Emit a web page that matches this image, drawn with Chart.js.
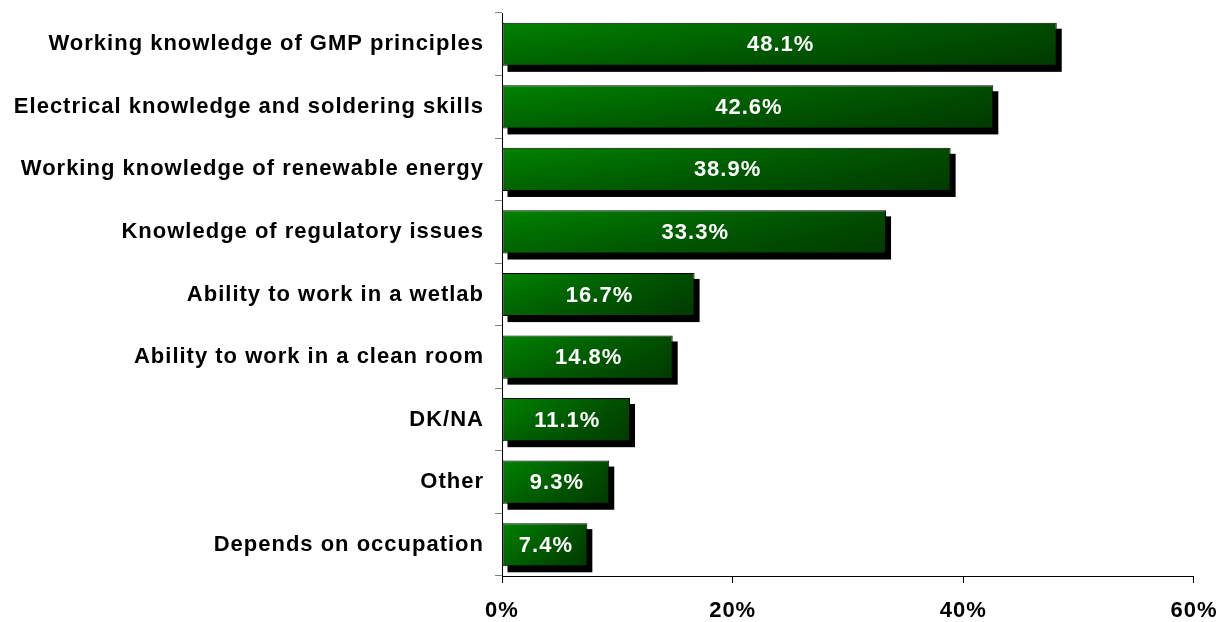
<!DOCTYPE html>
<html>
<head>
<meta charset="utf-8">
<script src="https://cdn.jsdelivr.net/npm/chart.js@4.4.0/dist/chart.umd.min.js"></script>
<style>
html,body{margin:0;padding:0;background:#fff;}
#wrap{width:1231px;height:622px;position:relative;}
</style>
</head>
<body>
<div id="wrap"><canvas id="c" width="1231" height="622"></canvas></div>
<script>
const categories = [
  "Working knowledge of GMP principles",
  "Electrical knowledge and soldering skills",
  "Working knowledge of renewable energy",
  "Knowledge of regulatory issues",
  "Ability to work in a wetlab",
  "Ability to work in a clean room",
  "DK/NA",
  "Other",
  "Depends on occupation"
];
const values = [48.1, 42.6, 38.9, 33.3, 16.7, 14.8, 11.1, 9.3, 7.4];
const xTicks = [0, 20, 40, 60];

const FONT = "'Liberation Sans', Arial, sans-serif";

const spacingPlugin = {
  id: 'spacing',
  beforeDraw(chart) { chart.ctx.letterSpacing = '1px'; }
};

function barRect(bar) {
  const p = bar.getProps(['x', 'y', 'base', 'height'], true);
  const left = Math.min(p.x, p.base), right = Math.max(p.x, p.base);
  return { left, right, top: p.y - p.height / 2, height: p.height, cy: p.y };
}

function barFill(c) {
  const chart = c.chart;
  const xs = chart.scales && chart.scales.x;
  if (c.type !== 'data' || !xs) return '#006000';
  const l = xs.getPixelForValue(0);
  const r = xs.getPixelForValue(values[c.dataIndex]);
  if (!isFinite(l) || !isFinite(r) || r <= l) return '#006000';
  const g = chart.ctx.createLinearGradient(l, 0, r, 0);
  g.addColorStop(0, '#008300');
  g.addColorStop(1, '#004c00');
  return g;
}

const barDeco = {
  id: 'barDeco',
  beforeDatasetsDraw(chart) {
    const ctx = chart.ctx;
    const meta = chart.getDatasetMeta(0);
    ctx.save();
    ctx.fillStyle = '#000';
    meta.data.forEach(bar => {
      const r = barRect(bar);
      ctx.fillRect(r.left + 5, r.top + 6, r.right - r.left, r.height);
    });
    ctx.restore();
  },
  afterDatasetsDraw(chart) {
    const ctx = chart.ctx;
    const meta = chart.getDatasetMeta(0);
    ctx.save();
    meta.data.forEach(bar => {
      const r = barRect(bar);
      const g = ctx.createLinearGradient(0, r.top, 0, r.top + r.height);
      g.addColorStop(0, 'rgba(0,0,0,0)');
      g.addColorStop(1, 'rgba(0,0,0,0.25)');
      ctx.fillStyle = g;
      ctx.fillRect(r.left + 1, r.top + 1, r.right - r.left - 2, r.height - 2);
    });
    ctx.letterSpacing = '1px';
    ctx.font = "bold 22px " + FONT;
    ctx.fillStyle = '#fff';
    ctx.textAlign = 'center';
    ctx.textBaseline = 'middle';
    meta.data.forEach((bar, i) => {
      const r = barRect(bar);
      ctx.fillText(values[i].toFixed(1) + '%', (r.left + r.right) / 2 + 1, r.cy + 1);
    });
    ctx.restore();
  }
};

new Chart(document.getElementById('c'), {
  type: 'bar',
  data: {
    labels: categories,
    datasets: [{
      data: values,
      backgroundColor: barFill,
      borderColor: '#000',
      borderWidth: 1,
      borderSkipped: false,
      barPercentage: 0.69,
      categoryPercentage: 1
    }]
  },
  options: {
    indexAxis: 'y',
    responsive: false,
    animation: false,
    layout: { padding: { top: 13, right: 34, left: 0, bottom: 0 } },
    plugins: { legend: { display: false }, tooltip: { enabled: false } },
    scales: {
      x: {
        min: 0, max: 60,
        afterBuildTicks(scale) { scale.ticks = xTicks.map(v => ({ value: v })); },
        afterFit(scale) { scale.height = 46; },
        border: { display: true, color: '#000', width: 1 },
        grid: { display: true, drawOnChartArea: false, drawTicks: true, tickLength: 7, color: '#000' },
        ticks: {
          padding: 15,
          color: '#000',
          font: { family: FONT, size: 22, weight: 'bold' },
          callback: v => v + '%',
          maxRotation: 0
        }
      },
      y: {
        afterFit(scale) { scale.width = 502; scale.paddingTop = 0; scale.paddingBottom = 0; },
        border: { display: true, color: '#000', width: 1 },
        grid: { display: true, drawOnChartArea: false, drawTicks: true, tickLength: 7, color: '#808080', offset: true },
        ticks: {
          padding: 11,
          color: '#000',
          font: { family: FONT, size: 22, weight: 'bold' }
        }
      }
    }
  },
  plugins: [spacingPlugin, barDeco]
});
</script>
</body>
</html>
